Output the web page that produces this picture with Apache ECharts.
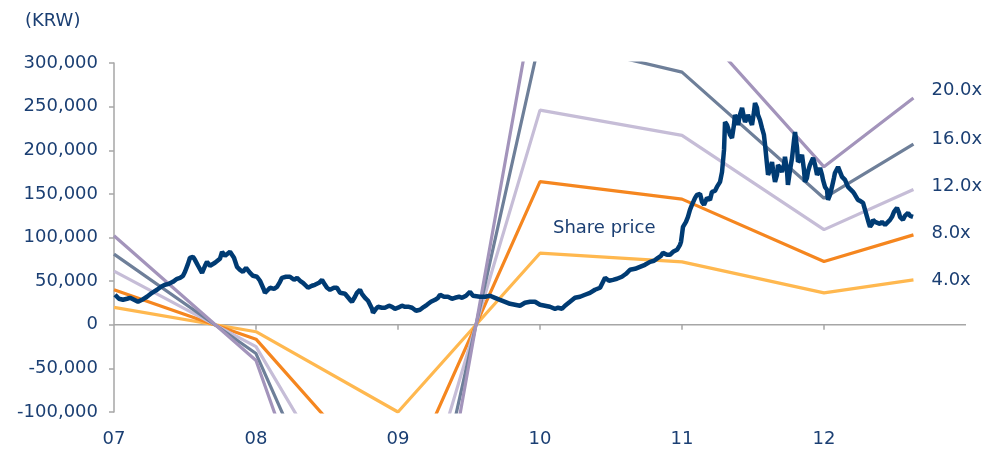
<!DOCTYPE html>
<html>
<head>
<meta charset="utf-8">
<script src="https://cdn.jsdelivr.net/npm/echarts@6/dist/echarts.min.js"></script>
<style>
  html, body { margin: 0; padding: 0; background: #fff; }
  #main { width: 985px; height: 456px; }
</style>
</head>
<body>
<div id="main"></div>
<script>
// 연도 (07 = 7.0) 와 밴드 값
var xTickLabels = ['07', '08', '09', '10', '11', '12'];
var bandYears = [7, 8, 9, 10, 11, 12, 12.63];
var band4x  = [20000,  -8000, -100000,  82000,  72000,  36500,  51500];
var band8x  = [40000, -16500, -200000, 164000, 144000,  72500, 103000];
var band12x = [61500, -25000, -300000, 246000, 217000, 109000, 155000];
var band16x = [81000, -33000, -400000, 328000, 289500, 145000, 207000];
var band20x = [102000, -41000, -500000, 410000, 362000, 181000, 260000];

// 주가
var priceYears = [
  7.007, 7.035, 7.063, 7.092, 7.113, 7.141, 7.169, 7.197, 7.232, 7.268, 7.303, 7.331, 7.359, 7.387, 7.415, 7.444,
  7.465, 7.486, 7.500, 7.521, 7.535, 7.556, 7.570, 7.592, 7.620, 7.641, 7.655, 7.676, 7.690, 7.711, 7.725, 7.746,
  7.761, 7.782, 7.796, 7.817, 7.831, 7.845, 7.866, 7.887, 7.908, 7.930, 7.958, 7.979, 8.007, 8.028, 8.042, 8.056,
  8.063, 8.085, 8.099, 8.127, 8.148, 8.169, 8.183, 8.211, 8.239, 8.268, 8.289, 8.310, 8.331, 8.352, 8.366, 8.394,
  8.415, 8.444, 8.465, 8.486, 8.500, 8.521, 8.549, 8.570, 8.592, 8.606, 8.627, 8.641, 8.662, 8.676, 8.697, 8.711,
  8.732, 8.746, 8.768, 8.789, 8.803, 8.817, 8.824, 8.845, 8.859, 8.887, 8.908, 8.937, 8.958, 8.979, 9.000, 9.028,
  9.049, 9.077, 9.099, 9.127, 9.155, 9.183, 9.204, 9.232, 9.261, 9.282, 9.296, 9.324, 9.352, 9.380, 9.401, 9.430,
  9.451, 9.479, 9.507, 9.528, 9.542, 9.577, 9.613, 9.648, 9.683, 9.718, 9.754, 9.789, 9.824, 9.859, 9.894, 9.930,
  9.965, 10.000, 10.035, 10.070, 10.106, 10.127, 10.155, 10.176, 10.211, 10.246, 10.282, 10.317, 10.352, 10.387, 10.423, 10.458,
  10.486, 10.514, 10.542, 10.577, 10.606, 10.634, 10.669, 10.704, 10.739, 10.775, 10.803, 10.831, 10.852, 10.866, 10.894, 10.915,
  10.937, 10.965, 10.986, 10.993, 11.007, 11.028, 11.042, 11.056, 11.070, 11.092, 11.106, 11.127, 11.141, 11.155, 11.176, 11.197,
  11.211, 11.232, 11.246, 11.268, 11.282, 11.296, 11.303, 11.317, 11.324, 11.338, 11.352, 11.366, 11.373, 11.387, 11.394, 11.408,
  11.423, 11.437, 11.444, 11.458, 11.465, 11.479, 11.493, 11.507, 11.514, 11.528, 11.535, 11.549, 11.563, 11.577, 11.585, 11.599,
  11.606, 11.620, 11.634, 11.641, 11.655, 11.669, 11.676, 11.690, 11.704, 11.718, 11.725, 11.739, 11.746, 11.761, 11.775, 11.789,
  11.796, 11.810, 11.817, 11.831, 11.845, 11.859, 11.866, 11.880, 11.887, 11.901, 11.923, 11.937, 11.951, 11.965, 11.972, 11.986,
  11.993, 12.007, 12.021, 12.028, 12.042, 12.056, 12.070, 12.077, 12.099, 12.113, 12.127, 12.148, 12.169, 12.183, 12.204, 12.218,
  12.239, 12.254, 12.275, 12.289, 12.303, 12.317, 12.324, 12.338, 12.345, 12.359, 12.373, 12.394, 12.408, 12.430, 12.444, 12.465,
  12.479, 12.493, 12.514, 12.528, 12.535, 12.556, 12.570, 12.592, 12.606, 12.627
];
var priceValues = [
  34400, 29800, 28600, 29800, 30900, 28600, 26300, 28600, 32100, 36600, 40100, 43500, 45800, 46900, 49200, 52700,
  53800, 56100, 60700, 69800, 76700, 77900, 74400, 67600, 59500, 67600, 72100, 67600, 68700, 71000, 72100, 75600,
  83600, 79000, 80200, 83600, 83600, 76700, 66400, 63000, 60700, 65300, 59500, 56100, 55000, 50400, 49200, 40100,
  36600, 40100, 42400, 41200, 43500, 49200, 53800, 55000, 55000, 51500, 53800, 50400, 48100, 44700, 42400, 44700,
  45800, 48100, 51500, 45800, 42400, 40100, 42400, 42400, 36600, 34400, 35500, 34400, 28600, 26300, 32100, 36600,
  40100, 35500, 30900, 27500, 26300, 18300, 13700, 18300, 20600, 19500, 19500, 21800, 20600, 18300, 19500, 21800,
  20600, 20600, 19500, 16000, 17200, 20600, 22900, 26300, 28600, 30900, 34400, 32100, 32100, 29800, 30900, 32100,
  30900, 33200, 37800, 33200, 32100, 32100, 32100, 33200, 30900, 28600, 26300, 24000, 22900, 21800, 25200, 26300,
  26300, 22900, 21800, 20600, 18300, 19500, 18300, 21800, 26300, 30900, 32100, 34400, 36600, 40100, 42400, 53800,
  50400, 51500, 52700, 55000, 58400, 63000, 64100, 66400, 68700, 72100, 73300, 76700, 79000, 82400, 80200, 80200,
  83600, 85900, 91600, 95000, 112200, 117900, 123700, 131700, 137400, 145400, 148900, 150000, 140800, 137400, 145400, 143100,
  152300, 153400, 158000, 163700, 175200, 200400, 232400, 229000, 225600, 217600, 214100, 229000, 240500, 234700, 229000, 240500,
  248500, 237000, 232400, 237000, 240500, 234700, 229000, 243900, 254200, 248500, 240500, 234700, 225600, 217600, 206100, 183200,
  171800, 177500, 186600, 177500, 163700, 171800, 183200, 179800, 175200, 183200, 192400, 177500, 160300, 177500, 191200, 211800,
  221000, 202700, 186600, 188900, 194700, 177500, 163700, 168300, 175200, 183200, 191200, 183200, 171800, 175200, 179800, 171800,
  166000, 158000, 154600, 143100, 148900, 158000, 168300, 174000, 180900, 175200, 169500, 166000, 158000, 155700, 152300, 148900,
  143100, 142000, 139700, 131700, 123700, 115600, 112200, 115600, 120200, 117900, 116800, 115600, 117900, 114500, 116800, 120200,
  123700, 129400, 134000, 128200, 123700, 120200, 124800, 128200, 124800, 123700
];

var navy = '#1b3f73';
var axisGrey = '#a6a6a6';
var fontFam = 'Tahoma, "DejaVu Sans", sans-serif';
var xMin = 7, xMax = 13;

function pairs(xs, ys) {
  return xs.map(function (x, i) { return [x, ys[i]]; });
}

function band(name, values, color, offY) {
  return {
    name: name,
    type: 'line',
    data: pairs(bandYears, values),
    showSymbol: false,
    clip: true,
    lineStyle: { color: color, width: 3.2 },
    itemStyle: { color: color },
    endLabel: {
      show: true,
      formatter: name,
      distance: 18,
      offset: [0, offY],
      color: navy,
      fontSize: 18,
      fontFamily: fontFam
    },
    z: 2
  };
}

var myChart = echarts.init(document.getElementById('main'));

var option = {
  animation: false,
  grid: { left: 114, right: 19, top: 63, bottom: 44 },
  graphic: [
    { type: 'text', id: 'unit', left: 25, top: 12, style: { text: '(KRW)', fill: navy, font: '18px ' + fontFam } },
    { type: 'text', id: 'sp', left: 553, top: 219, style: { text: 'Share price', fill: navy, font: '18px ' + fontFam } }
  ],
  xAxis: {
    type: 'value',
    min: xMin,
    max: xMax,
    interval: 1,
    splitLine: { show: false },
    axisLine: { show: false, onZero: false },
    axisTick: { show: false },
    axisLabel: {
      margin: 18,
      color: navy,
      fontSize: 18,
      fontFamily: fontFam,
      formatter: function (v) {
        var i = Math.round(v) - xMin;
        return xTickLabels[i] || '';
      }
    }
  },
  yAxis: {
    type: 'value',
    min: -100000,
    max: 300000,
    interval: 50000,
    splitLine: { show: false },
    axisLine: { show: true, onZero: false, lineStyle: { color: axisGrey, width: 1.5 } },
    axisTick: { show: true, length: 5, lineStyle: { color: axisGrey, width: 1.5 } },
    axisLabel: {
      margin: 16,
      color: navy,
      fontSize: 18,
      fontFamily: fontFam,
      formatter: function (v) { return echarts.format.addCommas(v); }
    }
  },
  series: [
    band('4.0x', band4x, '#ffb84f', 1),
    band('8.0x', band8x, '#f5861f', -2),
    band('12.0x', band12x, '#c6bdd7', -3),
    band('16.0x', band16x, '#6e7f99', -5),
    band('20.0x', band20x, '#a394bb', -8),
    {
      name: 'Share price',
      type: 'line',
      data: pairs(priceYears, priceValues),
      showSymbol: false,
      lineStyle: { color: '#003b73', width: 4.5 },
      itemStyle: { color: '#003b73' },
      z: 3
    }
  ]
};

myChart.setOption(option);

// 0 기준선과 연도 눈금: 축 스케일로 픽셀 위치를 구해서 그림
var p0 = myChart.convertToPixel({ gridIndex: 0 }, [xMin, 0]);
var p1 = myChart.convertToPixel({ gridIndex: 0 }, [xMax, 0]);
var deco = [{
  type: 'line', id: 'zero', z: -1,
  shape: { x1: p0[0], y1: p0[1], x2: p1[0], y2: p1[1] },
  style: { stroke: axisGrey, lineWidth: 1.5 }
}];
xTickLabels.forEach(function (lab, i) {
  if (i === 0) return;
  var p = myChart.convertToPixel({ gridIndex: 0 }, [xMin + i, 0]);
  deco.push({
    type: 'line', id: 'tick' + i, z: -1,
    shape: { x1: p[0], y1: p[1], x2: p[0], y2: p[1] + 5 },
    style: { stroke: axisGrey, lineWidth: 1.5 }
  });
});
myChart.setOption({ graphic: deco });
</script>
</body>
</html>
